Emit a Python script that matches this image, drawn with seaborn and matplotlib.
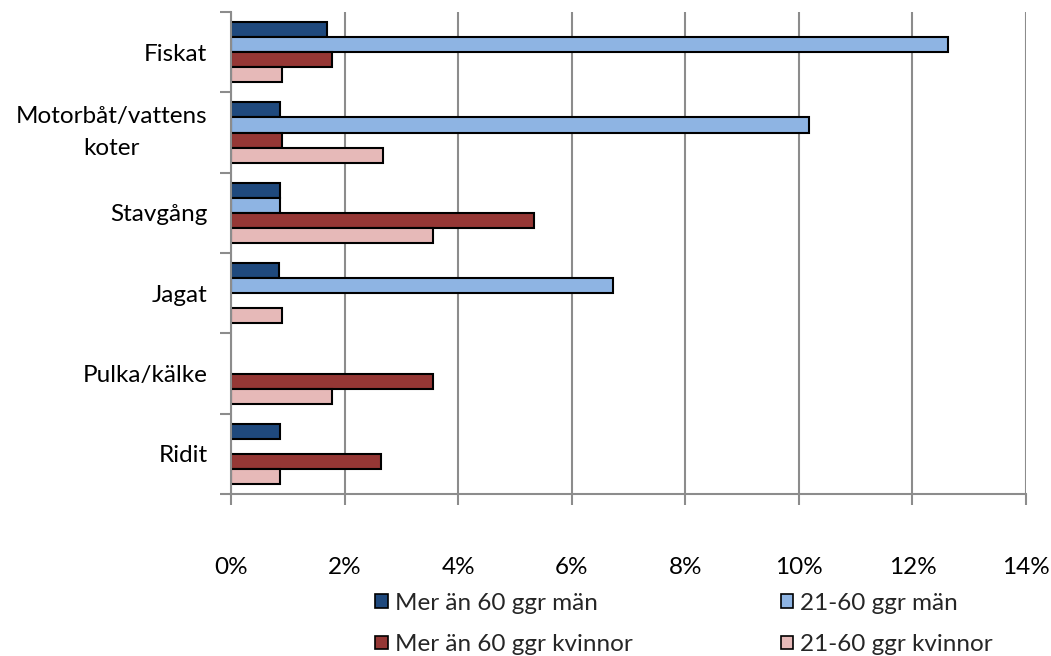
import matplotlib
matplotlib.use("Agg")
import matplotlib.pyplot as plt
import seaborn as sns
import pandas as pd
import numpy as np
from matplotlib.patches import Patch
from matplotlib.ticker import FuncFormatter, MultipleLocator

categories = ["Fiskat", "Motorbåt/vattens\nkoter", "Stavgång", "Jagat", "Pulka/kälke", "Ridit"]
series = ["Mer än 60 ggr män", "21-60 ggr män", "Mer än 60 ggr kvinnor", "21-60 ggr kvinnor"]
mer60_man = [1.69, 0.86, 0.86, 0.85, np.nan, 0.86]
m21_60_man = [12.62, 10.18, 0.86, 6.72, np.nan, np.nan]
mer60_kvinnor = [1.78, 0.90, 5.33, np.nan, 3.56, 2.64]
k21_60_kvinnor = [0.90, 2.68, 3.56, 0.90, 1.78, 0.86]
colors = ["#1F497D", "#8EB4E3", "#953735", "#E6B9B8"]

sns.set_theme(style="white")
plt.rcParams['font.family'] = ['Lato', 'DejaVu Sans']
FS = 17.5

rows = []
for s, vals in zip(series, [mer60_man, m21_60_man, mer60_kvinnor, k21_60_kvinnor]):
    for c, v in zip(categories, vals):
        rows.append({"cat": c, "serie": s, "val": v})
df = pd.DataFrame(rows)

fig = plt.figure(figsize=(10.51, 6.56), dpi=100)
ax = fig.add_axes([231/1051, 1-494/656, (1026-231)/1051, (494-12)/656])
sns.barplot(data=df.dropna(), y="cat", x="val", hue="serie", order=categories, hue_order=series,
            palette=colors, saturation=1, orient="h", width=0.75, edgecolor="black", linewidth=1.5,
            legend=False, ax=ax, errorbar=None)

ax.set_xlim(0, 14)
ax.set_ylim(len(categories)-0.5, -0.5)
ax.xaxis.set_major_locator(MultipleLocator(2))
ax.xaxis.set_major_formatter(FuncFormatter(lambda v, p: f"{int(round(v))}%"))
ax.grid(axis="x", color="#8c8c8c", linewidth=1.5)
ax.set_axisbelow(True)
for s in ["top", "right"]:
    ax.spines[s].set_visible(False)
for s in ["left", "bottom"]:
    ax.spines[s].set_color("#8c8c8c")
    ax.spines[s].set_linewidth(1.5)
ax.set_xlabel("")
ax.set_ylabel("")
ax.set_yticks(np.arange(len(categories)))
ax.set_yticks(np.arange(len(categories)+1) - 0.5, minor=True)
ax.tick_params(axis="y", which="major", length=0, pad=17, labelsize=FS)
ax.tick_params(axis="y", which="minor", length=8, width=1.5, color="#8c8c8c", left=True)
ax.tick_params(axis="x", which="major", length=8, width=1.5, color="#8c8c8c", bottom=True, labelsize=FS, pad=37)
for lbl in ax.get_yticklabels():
    lbl.set_multialignment("center")
    lbl.set_color("black")
    if "\n" in lbl.get_text():
        lbl.set_linespacing(1.7)
        lbl.set_verticalalignment("center")
for lbl in ax.get_xticklabels():
    lbl.set_color("black")

handles = [Patch(facecolor=c, edgecolor="black", linewidth=1.2) for c in colors]
order = [0, 2, 1, 3]
fig.legend([handles[i] for i in order], [series[i] for i in order], ncol=2, loc="center",
           bbox_to_anchor=(0.651, 0.049),
           frameon=False, fontsize=FS, handlelength=0.5, handleheight=0.5, handletextpad=0.3,
           columnspacing=6.1, labelspacing=0.85, borderpad=0)

fig.savefig("out.png", dpi=100)
